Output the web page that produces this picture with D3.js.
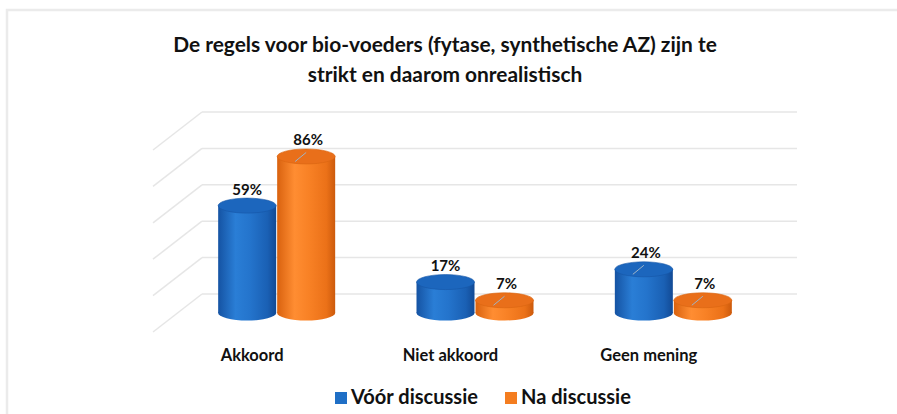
<!DOCTYPE html>
<html>
<head>
<meta charset="utf-8">
<script src="https://cdn.jsdelivr.net/npm/d3@7"></script>
<style>
  body { margin: 0; background: #fff; }
  text { font-family: Lato, "Open Sans", sans-serif; font-weight: bold; fill: #111; }
</style>
</head>
<body>
<svg id="chart" width="897" height="414"></svg>
<script>
const categories = ["Akkoord", "Niet akkoord", "Geen mening"];
const seriesNames = ["Vóór discussie", "Na discussie"];
const voorValues = [59, 17, 24];
const naValues = [86, 7, 7];
const yTicks = [0, 20, 40, 60, 80, 100];
const titleLines = ["De regels voor bio-voeders (fytase, synthetische AZ) zijn te", "strikt en daarom onrealistisch"];
// labels that Excel moved off the bar and tied back with a leader line
const leaderLines = [["Akkoord", "Na discussie"], ["Niet akkoord", "Na discussie"], ["Geen mening", "Vóór discussie"], ["Geen mening", "Na discussie"]];

const svg = d3.select("#chart");

// fit a text's width to the one measured on the original
function fit(sel, target) {
  sel.each(function () {
    const size = parseFloat(this.style.fontSize);
    const w = this.getComputedTextLength();
    d3.select(this).style("font-size", (size * target / w) + "px");
  });
}

// frame
svg.append("path")
  .attr("d", "M7,414 V10 H897")
  .attr("fill", "none").attr("stroke", "#ebebeb").attr("stroke-width", 2.5);

// title
const title = svg.append("g");
titleLines.forEach((t, i) => {
  title.append("text")
    .attr("x", 445).attr("y", 52 + i * 30)
    .attr("text-anchor", "middle")
    .style("font-size", "20px")
    .text(t);
});
const w0 = title.select("text").node().getComputedTextLength();
title.selectAll("text").style("font-size", (20 * 544 / w0) + "px");

// 3D geometry: front plane, depth offset
const front = { x: 153, y: 332 };
const depth = { dx: 49, dy: -38 };
const plotWidth = 595;

const x = d3.scaleBand().domain(categories).range([0, plotWidth]);
const xs = d3.scaleBand().domain(seriesNames).range([-59, 59]);
const y = d3.scaleLinear().domain([0, 100]).range([0, 182]);

// walls / gridlines
const grid = svg.append("g").attr("stroke", "#e6e6e6").attr("stroke-width", 1.5).attr("fill", "none");
yTicks.forEach(v => {
  const by = front.y + depth.dy - y(v);
  const bx = front.x + depth.dx;
  grid.append("line")
    .attr("x1", bx).attr("x2", bx + plotWidth)
    .attr("y1", by).attr("y2", by);
  grid.append("line")
    .attr("x1", front.x).attr("y1", front.y - y(v))
    .attr("x2", bx).attr("y2", by);
});

// gradients
const defs = svg.append("defs");
const palettes = {
  "Vóór discussie": { stops: ["#1553a3", "#2a7ed6", "#2474cc", "#1a60b4", "#124a95"], top: "#1c66bd", edge: "#1656a6" },
  "Na discussie": { stops: ["#d9620f", "#ff8d32", "#f88125", "#eb7118", "#cc5a0c"], top: "#e96f1a", edge: "#d86410" }
};
seriesNames.forEach((s, i) => {
  const g = defs.append("linearGradient").attr("id", "grad" + i)
    .attr("x1", "0%").attr("x2", "100%").attr("y1", "0%").attr("y2", "0%");
  const offs = [0, 0.3, 0.55, 0.85, 1];
  palettes[s].stops.forEach((c, k) => g.append("stop").attr("offset", offs[k]).attr("stop-color", c));
});

const rx = 29, ry = 7.5;
const baseY = front.y + depth.dy / 2;
const midX = front.x + depth.dx / 2;

const rows = [];
categories.forEach((c, ci) => {
  seriesNames.forEach((s, si) => {
    const v = si === 0 ? voorValues[ci] : naValues[ci];
    rows.push({ cat: c, series: s, si, value: v });
  });
});
const hasLeader = d => leaderLines.some(l => l[0] === d.cat && l[1] === d.series);

const bars = svg.append("g").selectAll("g.bar")
  .data(rows)
  .join("g")
  .attr("class", "bar")
  .attr("transform", d => `translate(${midX + x(d.cat) + x.bandwidth() / 2 + xs(d.series) + xs.bandwidth() / 2},${baseY})`);

bars.append("ellipse")
  .attr("cx", 0).attr("cy", 0).attr("rx", rx).attr("ry", ry)
  .attr("fill", d => `url(#grad${d.si})`);
bars.append("rect")
  .attr("x", -rx).attr("y", d => -y(d.value))
  .attr("width", rx * 2).attr("height", d => y(d.value))
  .attr("fill", d => `url(#grad${d.si})`);
bars.append("ellipse")
  .attr("cx", 0).attr("cy", d => -y(d.value)).attr("rx", rx).attr("ry", ry)
  .attr("fill", d => palettes[d.series].top)
  .attr("stroke", d => palettes[d.series].edge).attr("stroke-width", 0.6);

// leader lines
bars.filter(hasLeader)
  .append("line")
  .attr("x1", 0).attr("y1", d => -y(d.value) - 4)
  .attr("x2", -11).attr("y2", d => -y(d.value) + 5)
  .attr("stroke", "#9fb4c7").attr("stroke-width", 1);

// value labels
bars.append("text")
  .attr("x", d => hasLeader(d) ? 2 : 0)
  .attr("y", d => -y(d.value) - 11)
  .attr("text-anchor", "middle")
  .style("font-size", "15px")
  .text(d => d.value + "%");

// category labels on the front plane
svg.append("g").selectAll("text")
  .data(categories)
  .join("text")
  .attr("x", d => front.x + x(d) + x.bandwidth() / 2)
  .attr("y", 361)
  .attr("text-anchor", "middle")
  .style("font-size", "16.5px")
  .text(d => d);

// legend
const legend = svg.append("g").selectAll("g")
  .data(seriesNames)
  .join("g")
  .attr("transform", (d, i) => `translate(${[335, 505][i]},392)`);
legend.append("rect").attr("width", 12).attr("height", 12)
  .attr("fill", d => d === seriesNames[0] ? "#1f6fc6" : "#f47d20");
legend.append("text").attr("x", 16).attr("y", 12)
  .style("font-size", "17px")
  .text(d => d);
fit(legend.select("text").filter((d, i) => i === 0), 127);
legend.select("text").filter((d, i) => i === 1).style("font-size", legend.select("text").node().style.fontSize);
</script>
</body>
</html>
